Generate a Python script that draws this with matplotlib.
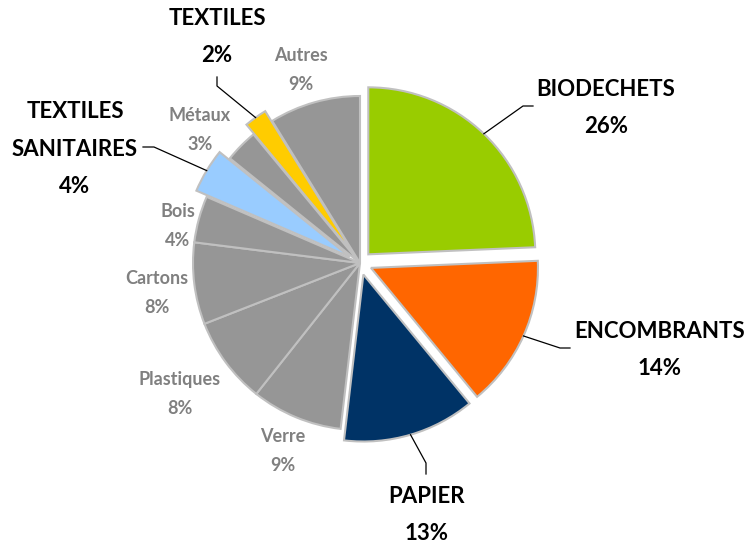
import numpy as np
import matplotlib
matplotlib.use("Agg")
from matplotlib import pyplot as plt

# data, clockwise from 12 o'clock
labels = ["BIODECHETS", "ENCOMBRANTS", "PAPIER", "Verre", "Plastiques", "Cartons",
          "Bois", "TEXTILES\nSANITAIRES", "Métaux", "TEXTILES", "Autres"]
# printed percentages
pct_labels = [26, 14, 13, 9, 8, 8, 4, 4, 3, 2, 9]
shares = [24.3, 14.7, 12.8, 8.8, 8.4, 7.9, 4.5, 4.3, 3.2, 2.2, 8.8]
highlight = [True, True, True, False, False, False, False, True, False, True, False]

# styling / layout
GRAY = "#969696"
slice_colors = ["#99cc00", "#ff6600", "#003366", GRAY, GRAY, GRAY, GRAY,
                "#99ccff", GRAY, "#ffcc00", GRAY]
W, H = 748, 544
# label centres in image pixels (x, y from top)
label_pos = [(606, 108), (660, 350), (427, 515), (283, 451), (180, 394), (157, 293),
             (178, 226), (75, 149), (200, 130), (217, 37), (301, 70)]
# elbow points of the leader lines (image pixels)
elbows = {0: [(523, 106), (533, 106)], 1: [(560, 348), (570, 348)],
          2: [(426, 463), (426, 474)], 7: [(154, 147), (143, 147)],
          9: [(217, 86), (217, 77)]}


def img(x, y):
    return x, H - y


fig = plt.figure(figsize=(W / 100, H / 100), dpi=100)
ax = fig.add_axes([0, 0, 1, 1])

# explode is in data units (pixels here)
explode = [12 if h else 0 for h in highlight]
wedges, _ = ax.pie(shares, colors=slice_colors, explode=explode, startangle=90,
                   counterclock=False, center=img(360, 263), radius=167,
                   wedgeprops=dict(edgecolor="#c0c0c0", linewidth=1.5))
ax.set_xlim(0, W)
ax.set_ylim(0, H)
ax.set_aspect("equal")
ax.axis("off")

for i, (lab, v) in enumerate(zip(labels, pct_labels)):
    x, y = img(*label_pos[i])
    if highlight[i]:
        ax.text(x, y, "{}\n{}%".format(lab, v), ha="center", va="center",
                fontsize=16, fontweight="bold", color="black", family="Lato",
                linespacing=1.95)
    else:
        ax.text(x, y, "{}\n{}%".format(lab, v), ha="center", va="center",
                fontsize=13, fontweight="bold", color="#808080", family="Lato",
                linespacing=1.85)
    if i in elbows:
        w = wedges[i]
        mid = np.deg2rad((w.theta1 + w.theta2) / 2)
        cx, cy = w.center
        ax_pt = (cx + w.r * np.cos(mid), cy + w.r * np.sin(mid))
        pts = [ax_pt] + [img(*p) for p in elbows[i]]
        xs, ys = zip(*pts)
        ax.plot(xs, ys, color="black", lw=0.9)

fig.savefig("out.png", dpi=100)
